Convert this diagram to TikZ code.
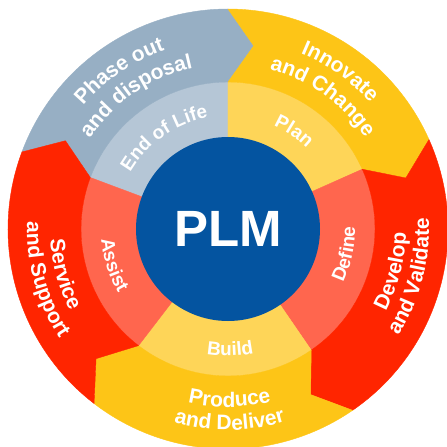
\documentclass[tikz,border=0pt]{standalone}
\usepackage{fontspec}
\setmainfont{Liberation Sans}
\usetikzlibrary{decorations.text}
\definecolor{plmblue}{RGB}{4,84,160}
\definecolor{grayO}{RGB}{151,175,196}
\definecolor{grayI}{RGB}{181,198,214}
\definecolor{yelO}{RGB}{253,197,23}
\definecolor{yelI}{RGB}{254,213,88}
\definecolor{redO}{RGB}{255,37,0}
\definecolor{redI}{RGB}{255,102,78}
\newcommand\outerfnt{\fontsize{21}{21}\selectfont\bfseries}
\newcommand\innerfnt{\fontsize{19}{19}\selectfont\bfseries}
\newcommand\outerseg[3]{%
  \fill[#3, draw=#3, line width=0.4pt, line join=round]
    (#1:220pt) arc[start angle=#1, end angle=#2, radius=220pt]
    -- ({#2-8}:185pt) -- (#2:147pt)
    arc[start angle=#2, end angle=#1, radius=147pt]
    -- ({#1-8}:185pt) -- cycle;}
\newcommand\innerseg[3]{%
  \fill[#3, draw=#3, line width=0.4pt]
    (0,0) -- (#1:147pt) arc[start angle=#1, end angle=#2, radius=147pt] -- cycle;}
\newcommand\toptext[4]{%
  \path[decorate, decoration={text along path, text={|#3|#4}, text align=center, text color=white}]
    ({#1+60}:#2) arc[start angle={#1+60}, end angle={#1-60}, radius=#2];}
\newcommand\bottext[4]{%
  \path[decorate, decoration={text along path, text={|#3|#4}, text align=center, text color=white}]
    ({#1-60}:#2) arc[start angle={#1-60}, end angle={#1+60}, radius=#2];}
\begin{document}
\begin{tikzpicture}[x=1pt,y=1pt]
\useasboundingbox (-228pt,-218pt) rectangle (219pt,229pt);
% inner ring
\innerseg{159.5}{90}{grayI}
\innerseg{90}{24}{yelI}
\innerseg{24}{-55.5}{redI}
\innerseg{-55.5}{-127.5}{yelI}
\innerseg{232.5}{159.5}{redI}
% outer ring (chevron arrows)
\outerseg{159.5}{90}{grayO}
\outerseg{90}{24}{yelO}
\outerseg{24}{-55.5}{redO}
\outerseg{-55.5}{-127.5}{yelO}
\outerseg{232.5}{159.5}{redO}
% centre
\node (plm) [circle, fill=plmblue, minimum size=184pt, inner sep=0pt, text=white,
  font=\fontsize{51}{51}\selectfont\bfseries] at (0,0) {PLM};
% outer texts
\toptext{124.5}{190pt}{\outerfnt}{Phase out}
\toptext{124.5}{165pt}{\outerfnt}{and disposal}
\toptext{54.5}{190pt}{\outerfnt}{Innovate}
\toptext{54.5}{165pt}{\outerfnt}{and Change}
\bottext{-14.5}{178pt}{\outerfnt}{Develop}
\bottext{-14.5}{201pt}{\outerfnt}{and Validate}
\bottext{-89.5}{178pt}{\outerfnt}{Produce}
\bottext{-89.5}{201pt}{\outerfnt}{and Deliver}
\bottext{195.5}{178pt}{\outerfnt}{Service}
\bottext{195.5}{201pt}{\outerfnt}{and Support}
% inner texts
\toptext{125}{113pt}{\innerfnt}{End of Life}
\toptext{56}{113pt}{\innerfnt}{Plan}
\bottext{-12}{127pt}{\innerfnt}{Define}
\bottext{-89}{127pt}{\innerfnt}{Build}
\bottext{197.5}{127pt}{\innerfnt}{Assist}
\end{tikzpicture}
\end{document}
